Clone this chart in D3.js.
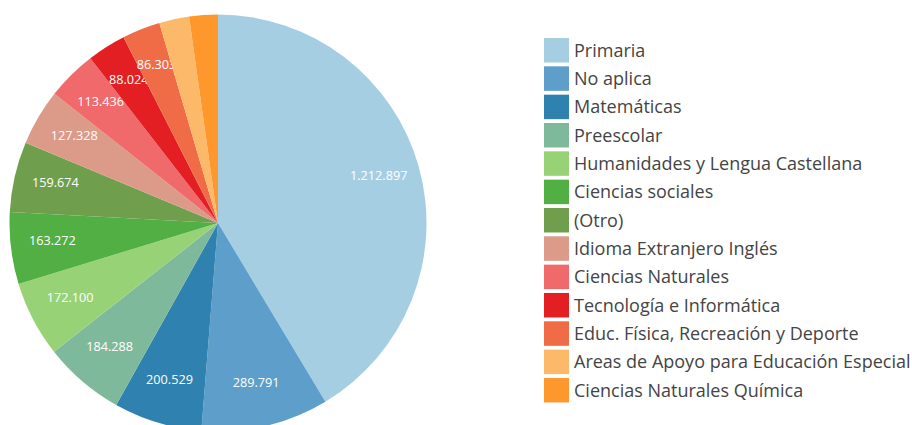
<!DOCTYPE html>
<html>
<head>
<meta charset="utf-8">
<script src="https://cdn.jsdelivr.net/npm/d3@7"></script>
<style>
  body { margin: 0; background: #fff; }
  svg { display: block; font-family: "Open Sans", sans-serif; }
</style>
</head>
<body>
<svg id="chart" width="912" height="425"></svg>
<script>
var labels = ['Primaria', 'No aplica', 'Matemáticas', 'Preescolar', 'Humanidades y Lengua Castellana',
    'Ciencias sociales', '(Otro)', 'Idioma Extranjero Inglés', 'Ciencias Naturales',
    'Tecnología e Informática', 'Educ. Física, Recreación y Deporte',
    'Areas de Apoyo para Educación Especial', 'Ciencias Naturales Química'];
var values = [1212897, 289791, 200529, 184288, 172100, 163272, 159674, 127328, 113436, 88024, 86303, 68000, 65000];
var colors = ['#a6cee3', '#5d9fca', '#2f82b0', '#7fb99b', '#98d277', '#52af44', '#6f9e4c',
    '#dc9a88', '#f06a6c', '#e31f24', '#ef6c47', '#fdb96a', '#fe982c'];

var svg = d3.select("#chart");
var cx = 218, cy = 223, radius = 208.5;

var fmt = d3.formatLocale({decimal: ",", thousands: ".", grouping: [3], currency: ["", ""]}).format(",d");

var pie = d3.pie().sort(null).value(function(d) { return d; });
var arc = d3.arc().innerRadius(0).outerRadius(radius);
var labelArc = d3.arc().innerRadius(radius * 0.8).outerRadius(radius * 0.8);

var arcs = pie(values);

var g = svg.append("g").attr("transform", "translate(" + cx + "," + cy + ")");

// each slice drawn with its own label, later slices cover earlier labels
var slice = g.selectAll("g.slice")
    .data(arcs)
    .enter().append("g")
    .attr("class", "slice");

slice.append("path")
    .attr("d", arc)
    .attr("fill", function(d, i) { return colors[i]; });

slice.filter(function(d) { return d.endAngle - d.startAngle > 0.17; })
    .append("text")
    .attr("transform", function(d) {
        var c = labelArc.centroid(d);
        return "translate(" + c[0] + "," + c[1] + ")";
    })
    .attr("text-anchor", "middle")
    .attr("dy", "0.12em")
    .attr("fill", "#fff")
    .attr("font-size", 12.7)
    .text(function(d) { return fmt(d.data); });

// legend
var legend = svg.append("g").attr("transform", "translate(544,38)");
var item = legend.selectAll("g.item")
    .data(labels)
    .enter().append("g")
    .attr("class", "item")
    .attr("transform", function(d, i) { return "translate(0," + (i * 28.33) + ")"; });

item.append("rect")
    .attr("width", 25)
    .attr("height", 24.5)
    .attr("fill", function(d, i) { return colors[i]; });

item.append("text")
    .attr("x", 30)
    .attr("y", 12.5)
    .attr("dy", "0.35em")
    .attr("font-size", 18)
    .attr("fill", "#444")
    .text(function(d) { return d; });
</script>
</body>
</html>
